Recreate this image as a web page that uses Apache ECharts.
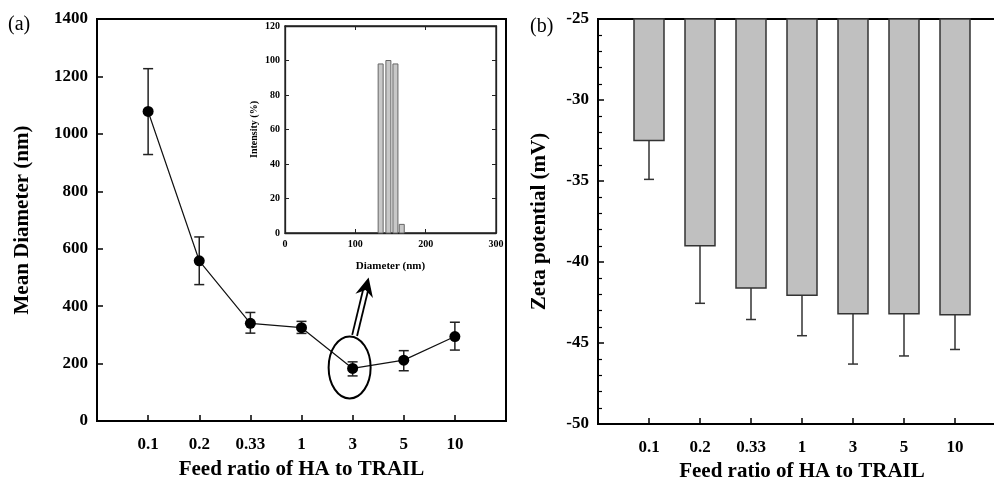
<!DOCTYPE html>
<html lang="en">
<head>
<meta charset="UTF-8">
<title>Feed ratio of HA to TRAIL</title>
<style>
    html, body { margin: 0; padding: 0; background: #fff; }
    #chart { width: 994px; height: 483px; }
</style>
</head>
<body>
<div id="chart"></div>
<script src="https://cdn.jsdelivr.net/npm/echarts@6/dist/echarts.min.js"></script>
<script>
// feed ratio categories (shared by both panels)
var cats = ['0.1', '0.2', '0.33', '1', '3', '5', '10'];
// (a) mean diameter with error bar ends
var diameter = [1078, 558, 340, 325, 183, 212, 294];
var diameterLow = [928, 475, 306, 305, 157, 175, 247];
var diameterHigh = [1227, 641, 378, 347, 206, 245, 344];
// (b) zeta potential, bars hang from -25, error goes down only
var zeta = [-32.5, -39.0, -41.6, -42.05, -43.2, -43.2, -43.25];
var zetaLow = [-34.9, -42.55, -43.55, -44.55, -46.3, -45.8, -45.4];
// inset size distribution
var insetSize = [136, 147, 157, 166];
var insetIntensity = [98, 100, 98, 5];

var FONT = '"Liberation Serif", "Times New Roman", serif';
var chart = echarts.init(document.getElementById('chart'));

function lbl(size) {
    return { color: '#000', fontFamily: FONT, fontWeight: 'bold', fontSize: size };
}
function plain(v) { return String(v); }
function catAxis(grid, name, gap) {
    return {
        type: 'value', gridIndex: grid, min: -1, max: 7, interval: 1,
        axisLine: { show: true, onZero: false, lineStyle: { color: '#000', width: 2 } },
        axisTick: { show: true, inside: true, length: 6, lineStyle: { color: '#000', width: 1.5 } },
        axisLabel: Object.assign(lbl(17), { margin: 15, formatter: function (v) { return cats[v] || ''; } }),
        splitLine: { show: false },
        name: name, nameLocation: 'middle', nameGap: gap, nameTextStyle: lbl(21)
    };
}

var data0 = cats.map(function (c, i) { return [i, diameter[i]]; });
var err0 = cats.map(function (c, i) { return [i, diameterLow[i], diameterHigh[i]]; });
var data1 = cats.map(function (c, i) { return [i, zeta[i], zetaLow[i]]; });
var data2 = insetSize.map(function (s, i) { return [s, insetIntensity[i]]; });

var option = {
    animation: false,
    backgroundColor: '#fff',
    grid: [
        { left: 97, top: 19, width: 409, height: 402, show: true, borderColor: '#000', borderWidth: 2, outerBoundsMode: 'none' },
        { left: 598, top: 19, width: 408, height: 405, show: true, borderColor: '#000', borderWidth: 2, outerBoundsMode: 'none' },
        { left: 285, top: 26, width: 211, height: 207, show: true, borderColor: '#222', borderWidth: 1.3, outerBoundsMode: 'none' }
    ],
    xAxis: [
        catAxis(0, 'Feed ratio of HA to TRAIL', 38),
        catAxis(1, 'Feed ratio of HA to TRAIL', 33),
        {
            type: 'value', gridIndex: 2, min: 0, max: 300, interval: 100,
            axisLine: { onZero: false, lineStyle: { color: '#222', width: 1.3 } },
            axisTick: { inside: true, length: 4, lineStyle: { color: '#222' } },
            axisLabel: Object.assign(lbl(10), { margin: 6 }),
            splitLine: { show: false },
            name: 'Diameter (nm)', nameLocation: 'middle', nameGap: 28, nameTextStyle: lbl(11)
        },
        {
            type: 'value', gridIndex: 2, position: 'top', min: 0, max: 300, interval: 100,
            axisLine: { onZero: false, lineStyle: { color: '#222', width: 1.3 } },
            axisTick: { inside: true, length: 4, lineStyle: { color: '#222' } },
            axisLabel: { show: false }, splitLine: { show: false }
        }
    ],
    yAxis: [
        {
            type: 'value', gridIndex: 0, min: 0, max: 1400, interval: 200,
            axisLine: { show: true, onZero: false, lineStyle: { color: '#000', width: 2 } },
            axisTick: { show: true, inside: true, length: 6, lineStyle: { color: '#000', width: 1.5 } },
            axisLabel: Object.assign(lbl(17), { margin: 9, formatter: plain }),
            splitLine: { show: false },
            name: 'Mean Diameter (nm)', nameLocation: 'middle', nameGap: 64, nameTextStyle: lbl(21)
        },
        {
            type: 'value', gridIndex: 1, min: -50, max: -25, interval: 5,
            axisLine: { show: true, onZero: false, lineStyle: { color: '#000', width: 2 } },
            axisTick: { show: true, inside: true, length: 6, lineStyle: { color: '#000', width: 1.5 } },
            minorTick: { show: true, splitNumber: 5, length: 4, lineStyle: { color: '#000', width: 1.2 } },
            axisLabel: Object.assign(lbl(17), { margin: 9, formatter: plain }),
            splitLine: { show: false },
            name: 'Zeta potential (mV)', nameLocation: 'middle', nameGap: 48, nameTextStyle: lbl(21)
        },
        {
            type: 'value', gridIndex: 2, min: 0, max: 120, interval: 20,
            axisLine: { onZero: false, lineStyle: { color: '#222', width: 1.3 } },
            axisTick: { inside: true, length: 4, lineStyle: { color: '#222' } },
            axisLabel: Object.assign(lbl(10), { margin: 5 }),
            splitLine: { show: false },
            name: 'Intensity (%)', nameLocation: 'middle', nameGap: 26, nameTextStyle: lbl(10)
        },
        {
            type: 'value', gridIndex: 2, position: 'right', min: 0, max: 120, interval: 20,
            axisLine: { onZero: false, lineStyle: { color: '#222', width: 1.3 } },
            axisTick: { inside: true, length: 4, lineStyle: { color: '#222' } },
            axisLabel: { show: false }, splitLine: { show: false }
        }
    ],
    series: [
        {
            // error bars for (a)
            type: 'custom', xAxisIndex: 0, yAxisIndex: 0, data: err0, z: 2,
            renderItem: function (params, api) {
                var lo = api.coord([api.value(0), api.value(1)]);
                var hi = api.coord([api.value(0), api.value(2)]);
                var st = { stroke: '#222', lineWidth: 1.5 };
                return {
                    type: 'group', children: [
                        { type: 'line', shape: { x1: lo[0], y1: lo[1], x2: hi[0], y2: hi[1] }, style: st },
                        { type: 'line', shape: { x1: lo[0] - 5, y1: lo[1], x2: lo[0] + 5, y2: lo[1] }, style: st },
                        { type: 'line', shape: { x1: hi[0] - 5, y1: hi[1], x2: hi[0] + 5, y2: hi[1] }, style: st }
                    ]
                };
            }
        },
        {
            type: 'line', xAxisIndex: 0, yAxisIndex: 0, data: data0, z: 3,
            symbol: 'circle', symbolSize: 11,
            itemStyle: { color: '#000' },
            lineStyle: { color: '#111', width: 1.2 }
        },
        {
            // hanging bars + downward error for (b)
            type: 'custom', xAxisIndex: 1, yAxisIndex: 1, data: data1,
            renderItem: function (params, api) {
                var x = api.value(0);
                var top = api.coord([x, -25]);
                var bot = api.coord([x, api.value(1)]);
                var err = api.coord([x, api.value(2)]);
                var w = 30;
                var st = { stroke: '#333', lineWidth: 1.5 };
                return {
                    type: 'group', children: [
                        { type: 'line', shape: { x1: bot[0], y1: bot[1], x2: err[0], y2: err[1] }, style: st },
                        { type: 'line', shape: { x1: err[0] - 5, y1: err[1], x2: err[0] + 5, y2: err[1] }, style: st },
                        { type: 'rect', shape: { x: top[0] - w / 2, y: top[1], width: w, height: bot[1] - top[1] },
                          style: { fill: '#c0c0c0', stroke: '#333', lineWidth: 1.5 } }
                    ]
                };
            }
        },
        {
            // inset size distribution
            type: 'custom', xAxisIndex: 2, yAxisIndex: 2, data: data2,
            renderItem: function (params, api) {
                var p = api.coord([api.value(0), api.value(1)]);
                var b = api.coord([api.value(0), 0]);
                return {
                    type: 'rect', shape: { x: p[0] - 2.5, y: p[1], width: 5, height: b[1] - p[1] },
                    style: { fill: '#c8c8c8', stroke: '#666', lineWidth: 1 }
                };
            }
        }
    ]
};
chart.setOption(option);

// annotations: ellipse round the "3" point and the arrow to the inset
var p = chart.convertToPixel({ xAxisIndex: 0, yAxisIndex: 0 }, data0[4]);
var S = [p[0] + 2, p[1] - 33], T = [p[0] + 16, p[1] - 91];
var dx = T[0] - S[0], dy = T[1] - S[1], len = Math.sqrt(dx * dx + dy * dy);
var ux = dx / len, uy = dy / len, nx = -uy, ny = ux;
function at(base, a, b) { return [base[0] + ux * a + nx * b, base[1] + uy * a + ny * b]; }
var shaftEnd = at(T, -13, 0);

chart.setOption({
    graphic: [
        { type: 'text', left: 8, top: 15, style: { text: '(a)', font: '20px ' + FONT, fill: '#000' } },
        { type: 'text', left: 530, top: 17, style: { text: '(b)', font: '20px ' + FONT, fill: '#000' } },
        { type: 'ellipse', shape: { cx: p[0] - 3, cy: p[1] - 1, rx: 21, ry: 31 },
          style: { fill: 'none', stroke: '#000', lineWidth: 2 }, z: 10 },
        { type: 'line', shape: { x1: at(S, 0, 2.5)[0], y1: at(S, 0, 2.5)[1], x2: at(shaftEnd, 0, 2.5)[0], y2: at(shaftEnd, 0, 2.5)[1] },
          style: { stroke: '#000', lineWidth: 1.8 }, z: 10 },
        { type: 'line', shape: { x1: at(S, 0, -2.5)[0], y1: at(S, 0, -2.5)[1], x2: at(shaftEnd, 0, -2.5)[0], y2: at(shaftEnd, 0, -2.5)[1] },
          style: { stroke: '#000', lineWidth: 1.8 }, z: 10 },
        { type: 'polygon', shape: { points: [T, at(T, -19, 9), at(T, -13, 0), at(T, -19, -9)] },
          style: { fill: '#000' }, z: 10 }
    ]
});
</script>
</body>
</html>
